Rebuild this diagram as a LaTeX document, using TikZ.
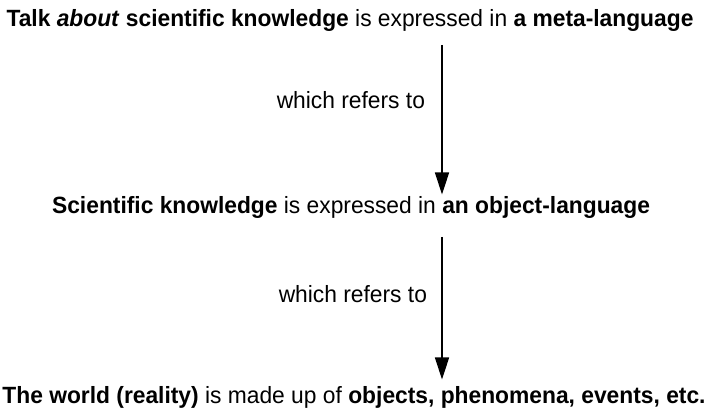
\documentclass[tikz,border=0pt]{standalone}
\usepackage{fontspec}
\setmainfont[FakeStretch=0.97]{Liberation Sans}
\usetikzlibrary{arrows.meta}
\tikzset{
  line/.style={font=\fontsize{23.5}{26}\selectfont, inner sep=0pt, outer sep=0pt},
  lbl/.style={font=\fontsize{23.5}{26}\selectfont, inner sep=0pt, outer sep=0pt},
  arr/.style={line width=1.6pt, -{Triangle[width=14pt,length=22pt]}}
}
\begin{document}
\begin{tikzpicture}[x=1pt,y=-1pt]
\useasboundingbox (0,0) rectangle (711,409);
\coordinate (ax) at (442,0);
\node[line, anchor=base] (top) at (350,27)
  {\textbf{Talk \textit{about} scientific knowledge} is expressed in \textbf{a meta-language}};
\node[line, anchor=base east] (mid) at (650,213)
  {\textbf{Scientific knowledge} is expressed in \textbf{an object-language}};
\node[line, anchor=base] (bot) at (354,403)
  {\textbf{The world (reality)} is made up of \textbf{objects, phenomena, events, etc.}};
\draw[arr, shorten <=13pt, shorten >=1.5pt] (top.south -| ax) -- (mid.north -| ax);
\draw[arr, shorten <=19pt, shorten >=6.5pt] (mid.south -| ax) -- (bot.north -| ax);
\node[lbl, anchor=base east] (l1) at (425,109) {which refers to};
\node[lbl, anchor=base east] (l2) at (427,302) {which refers to};
\end{tikzpicture}
\end{document}
